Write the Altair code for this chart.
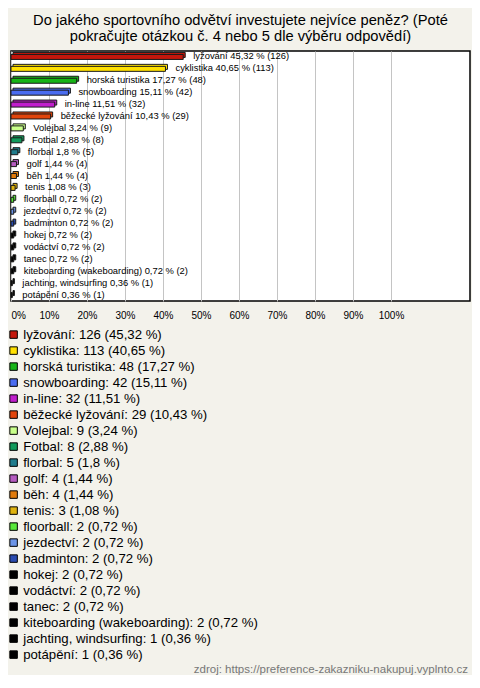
import altair as alt
import pandas as pd

categories = ["lyžování", "cyklistika", "horská turistika", "snowboarding", "in-line",
              "běžecké lyžování", "Volejbal", "Fotbal", "florbal", "golf", "běh", "tenis",
              "floorball", "jezdectví", "badminton", "hokej", "vodáctví", "tanec",
              "kiteboarding (wakeboarding)", "jachting, windsurfing", "potápění"]
counts = [126, 113, 48, 42, 32, 29, 9, 8, 5, 4, 4, 3, 2, 2, 2, 2, 2, 2, 2, 1, 1]
percents = [45.32, 40.65, 17.27, 15.11, 11.51, 10.43, 3.24, 2.88, 1.8, 1.44, 1.44, 1.08,
            0.72, 0.72, 0.72, 0.72, 0.72, 0.72, 0.72, 0.36, 0.36]
colors = ["#c4170c", "#ffe000", "#16b416", "#4a6cf0", "#c01ecc", "#e2450b", "#c9ff8a",
          "#129a5b", "#207c8c", "#b55bc0", "#e07b0d", "#dfb30f", "#58e83a", "#6c94e6",
          "#2a4bb0", "#000000", "#000000", "#000000", "#000000", "#000000", "#000000"]
axis_ticks = [0, 10, 20, 30, 40, 50, 60, 70, 80, 90, 100]
title_lines = ["Do jakého sportovního odvětví investujete nejvíce peněz? (Poté",
               "pokračujte otázkou č. 4 nebo 5 dle výběru odpovědí)"]
source_note = "zdroj: https://preference-zakazniku-nakupuj.vyplnto.cz"

pct_txt = [f"{p:g}".replace(".", ",") for p in percents]
bar_labels = [f"{c} {t} % ({n})" for c, t, n in zip(categories, pct_txt, counts)]
legend_labels = [f"{c}: {n} ({t} %)" for c, t, n in zip(categories, pct_txt, counts)]

df = pd.DataFrame({
    "cat": categories,
    "pct": percents,
    "bar_label": bar_labels,
    "legend_label": legend_labels,
})

FONT = "Liberation Sans"

y_enc = alt.Y("cat:N", sort=categories,
              scale=alt.Scale(domain=categories, paddingInner=0, paddingOuter=0),
              axis=None)
x_enc = alt.X("pct:Q", title=None,
              scale=alt.Scale(domain=[0, 120.79], nice=False),
              axis=alt.Axis(values=axis_ticks, labelExpr="datum.value + '%'",
                            grid=True, gridColor="#c4c4c4", gridWidth=1,
                            ticks=False, domain=False, labelPadding=9,
                            labelFontSize=10, labelFont=FONT, labelColor="black"))
color_enc = alt.Color("legend_label:N", sort=legend_labels,
                      scale=alt.Scale(domain=legend_labels, range=colors),
                      legend=alt.Legend(orient="none", legendX=-4, legendY=277,
                                        title=None, symbolType="square", symbolSize=56,
                                        symbolStrokeColor="black", symbolStrokeWidth=1,
                                        labelFontSize=13.2, labelFont=FONT,
                                        labelColor="black", labelLimit=400,
                                        rowPadding=2.0, labelOffset=3, padding=0))

base = alt.Chart(df)

back = base.mark_bar(size=5, xOffset=2, yOffset=-2, stroke="#1a1a1a",
                     strokeWidth=1).encode(x=x_enc, y=y_enc, color=color_enc)
front = base.mark_bar(size=5, stroke="#1a1a1a",
                      strokeWidth=1).encode(x=x_enc, y=y_enc, color=color_enc)
labels = base.mark_text(align="left", baseline="middle", dx=10, dy=-0.5,
                        fontSize=9.4, font=FONT, color="black").encode(
    x=x_enc, y=y_enc, text="bar_label:N")

note_df = pd.DataFrame({"t": [source_note]})
footer = alt.Chart(note_df).mark_text(
    align="right", baseline="middle", fontSize=11.5, font=FONT, color="#777777"
).encode(x=alt.value(457), y=alt.value(619), text="t:N")

title1 = alt.Chart(pd.DataFrame({"t": [title_lines[0]]})).mark_text(
    align="center", baseline="middle", fontSize=14.7, font=FONT, color="black"
).encode(x=alt.value(229.5), y=alt.value(-30.3), text="t:N")
title2 = alt.Chart(pd.DataFrame({"t": [title_lines[1]]})).mark_text(
    align="center", baseline="middle", fontSize=14.7, font=FONT, color="black"
).encode(x=alt.value(229.5), y=alt.value(-13.7), text="t:N")

chart = alt.layer(back, front, labels, footer, title1, title2).properties(
    width=459, height=250,
    padding={"left": 3, "top": 43, "right": 2, "bottom": 374},
    autosize=alt.AutoSizeParams(type="none"),
    background="#f3f2eb",
).configure_view(fill="white", stroke="black", strokeWidth=1.5)

chart.save("out.html", embed_options={"renderer": "svg", "actions": False})
